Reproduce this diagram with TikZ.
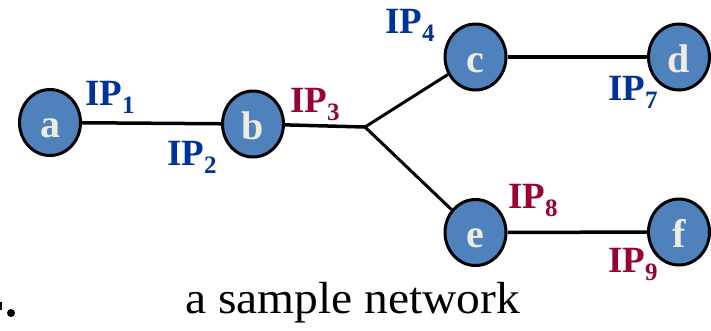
\documentclass[tikz,border=0pt]{standalone}
\usepackage{fontspec}
\usetikzlibrary{shapes.geometric}
\setmainfont{Liberation Serif}
\definecolor{nodeblue}{RGB}{79,129,189}
\definecolor{ipblue}{RGB}{0,51,153}
\definecolor{ipred}{RGB}{153,0,51}
\definecolor{cream}{RGB}{238,236,225}
% interface address with a lowered index
\newcommand\ipaddr[1]{\bfseries IP\raisebox{-8pt}{\fontsize{25}{25}\selectfont #1}}

\begin{document}
\begin{tikzpicture}[x=1pt,y=-1pt,
  host/.style={ellipse,draw=black,line width=3pt,fill=nodeblue,
    minimum width=61pt,minimum height=66pt,
    inner sep=0pt,text=cream,text height=30pt,text depth=0pt,
    font=\fontsize{40}{40}\selectfont\bfseries},
  link/.style={line width=3.5pt},
  ipb/.style={anchor=base west,inner sep=0pt,text=ipblue,font=\fontsize{37}{37}\selectfont},
  ipr/.style={ipb,text=ipred}]
\useasboundingbox (0,0) rectangle (711,330);

% hosts
\node[host] (a) at (50,122.5) {a};
\node[host] (b) at (253,124) {b};
\node[host] (c) at (475.5,57) {c};
\node[host] (d) at (679,57) {d};
\node[host] (e) at (475.5,232.5) {e};
\node[host] (f) at (679,232) {f};
\coordinate (j) at (365,127);

% links
\draw[link] (a) -- (b);
\draw[link] (b) -- (j);
\draw[link,line width=3pt] (j) -- (c);
\draw[link,line width=3pt] (j) -- (e);
\draw[link] (c) -- (d);
\draw[link] (e) -- (f);

% interface addresses
\node[ipb] (ip1) at (85,105) {\ipaddr{1}};
\node[ipb] (ip2) at (167,165) {\ipaddr{2}};
\node[ipr] (ip3) at (290,112) {\ipaddr{3}};
\node[ipb] (ip4) at (385,33) {\ipaddr{4}};
\node[ipb] (ip7) at (608,100) {\ipaddr{7}};
\node[ipr] (ip8) at (508,208) {\ipaddr{8}};
\node[ipr] (ip9) at (608,272) {\ipaddr{9}};

% caption
\node[anchor=base west,inner sep=0pt] (cap) at (185,313)
  {\resizebox{335pt}{\height}{\fontsize{45}{45}\selectfont a sample network}};
\fill (11,313) circle (4pt);
\fill (0,302) rectangle (1.5,310);
\end{tikzpicture}
\end{document}
